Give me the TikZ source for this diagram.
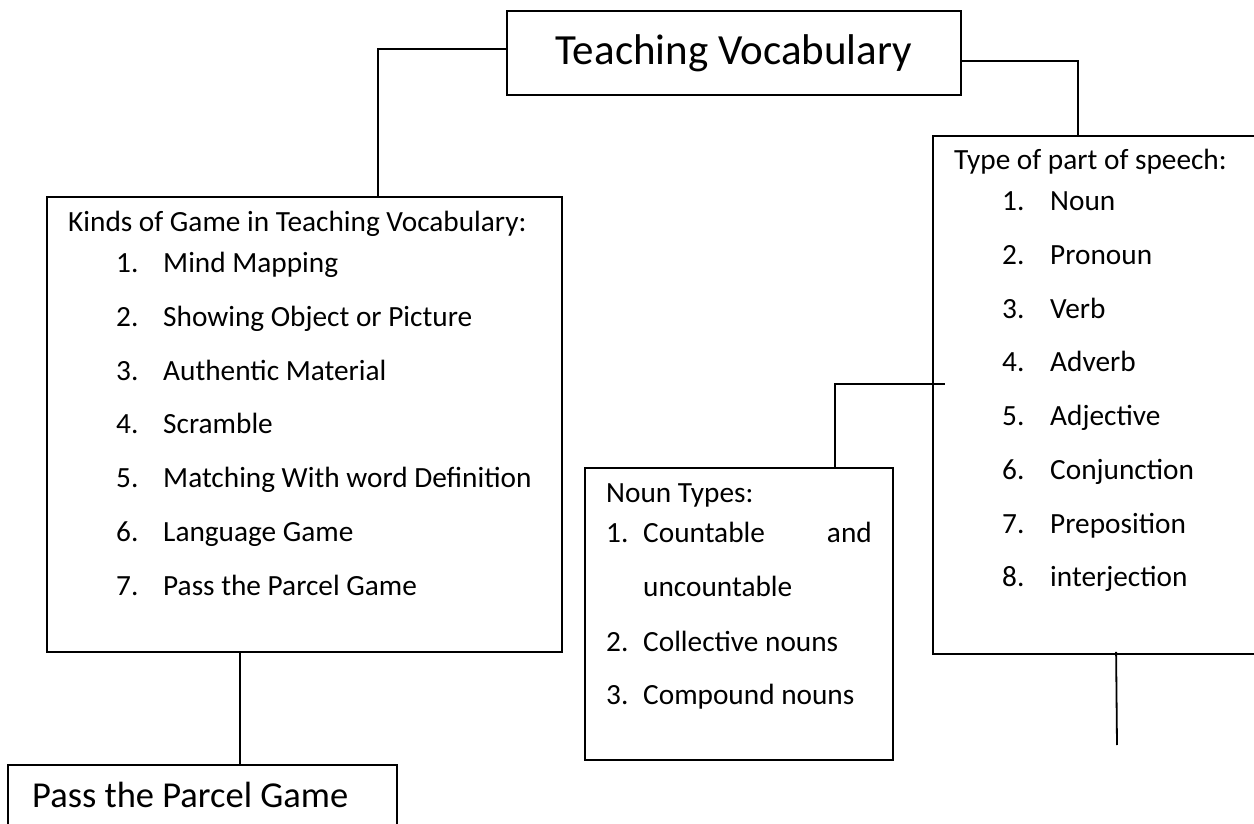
\documentclass[tikz,border=0pt]{standalone}
\usepackage{fontspec}
\setmainfont{Carlito}
\usetikzlibrary{calc}
\tikzset{
  boxnode/.style={draw=black, line width=1.8pt, rectangle, inner sep=0pt},
  txt/.style={inner sep=0pt, anchor=mid west, yshift=-2.5pt, font=\fontsize{29.3}{33}\selectfont},
  txtr/.style={inner sep=0pt, anchor=mid east, yshift=-2.5pt, font=\fontsize{29.3}{33}\selectfont},
  conn/.style={draw=black, line width=1.8pt},
}
\begin{document}
\begin{tikzpicture}[x=1pt, y=-1pt]
\useasboundingbox (0,0) rectangle (1254,824);
\clip (0,0) rectangle (1254,824);
\fill[white] (0,0) rectangle (1254,824);

% boxes
\node[boxnode, minimum width=454pt, minimum height=84pt, font=\fontsize{43}{48}\selectfont] (top) at (734,53) {Teaching Vocabulary};
\node[boxnode, minimum width=515pt, minimum height=455pt] (left) at (304.5,424.5) {};
\node[boxnode, minimum width=367pt, minimum height=518pt] (right) at (1116.5,395) {};
\node[boxnode, minimum width=308pt, minimum height=292pt] (noun) at (739,614) {};
\node[boxnode, minimum width=389pt, minimum height=90pt] (pass) at (202.5,810) {};

% left box text
\node[txt] (lt) at (68,227) {Kinds of Game in Teaching Vocabulary:};
\foreach \n/\t [count=\i from 0] in {1/Mind Mapping, 2/Showing Object or Picture, 3/Authentic Material, 4/Scramble, 5/Matching With word Definition, 6/Language Game, 7/Pass the Parcel Game}{
  \node[txt] (ln\n) at (116,268+53.7*\i) {\n.};
  \node[txt] (lx\n) at (163,268+53.7*\i) {\t};
}

% right box text
\node[txt] (rt) at (954,165) {Type of part of speech:};
\foreach \n/\t [count=\i from 0] in {1/Noun, 2/Pronoun, 3/Verb, 4/Adverb, 5/Adjective, 6/Conjunction, 7/Preposition, 8/interjection}{
  \node[txt] (rn\n) at (1002,206+53.7*\i) {\n.};
  \node[txt] (rx\n) at (1050,206+53.7*\i) {\t};
}

% noun box text
\node[txt] (nt) at (606,498) {Noun Types:};
\node[txt] (nn1) at (606,538) {1.};
\node[txt] (nx1) at (643,538) {Countable};
\node[txtr] (nx1b) at (872,538) {and};
\node[txt] (nx1c) at (643,592) {uncountable};
\node[txt] (nn2) at (606,647) {2.};
\node[txt] (nx2) at (643,647) {Collective nouns};
\node[txt] (nn3) at (606,700) {3.};
\node[txt] (nx3) at (643,700) {Compound nouns};

% pass box text
\node[inner sep=0pt, anchor=mid west, yshift=-3pt, font=\fontsize{36.5}{40}\selectfont] (pt) at (32,802) {Pass the Parcel Game};

% connectors
\coordinate (nounend) at (945,384);
\coordinate (dangle) at (1117,745);
\draw[conn] ([yshift=4pt]top.west) -| ([xshift=332pt]left.north west);
\draw[conn] ([yshift=-8pt]top.east) -| ([xshift=146pt]right.north west);
\draw[conn] ([xshift=194pt]left.south west) -- ([xshift=233pt]pass.north west);
\draw[conn] ([xshift=251pt]noun.north west) |- (nounend);
\draw[conn] ([xshift=184pt,yshift=3pt]right.south west) -- (dangle);
\end{tikzpicture}
\end{document}
